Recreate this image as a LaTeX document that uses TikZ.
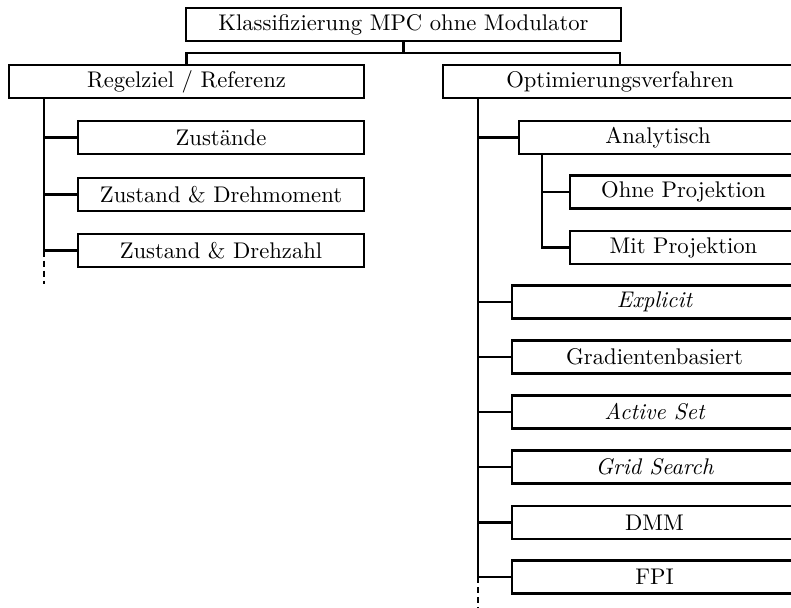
\documentclass[tikz,border=0pt]{standalone}
\usepackage{graphicx}
\newcommand\lbl[1]{\scalebox{2.265}{#1}}
\begin{document}
\begin{tikzpicture}[x=1pt,y=-1pt,
  box/.style={draw, line width=2.8pt, inner sep=0pt, minimum height=33pt, anchor=center,
    font=\fontsize{10}{12}\selectfont},
  conn/.style={line width=2.8pt},
  dconn/.style={line width=2.8pt, dash pattern=on 6pt off 4pt}]
\useasboundingbox (0,0) rectangle (791,607);
% nodes
\node[box, minimum width=435pt] (top) at (403.5,24.5) {\lbl{Klassifizierung MPC ohne Modulator}};
\node[box, minimum width=355pt] (reg) at (186.5,81.5) {\lbl{Regelziel / Referenz}};
\node[box, minimum width=354pt] (opt) at (620,81.5) {\lbl{Optimierungsverfahren}};
\node[box, minimum width=286pt] (z1) at (221,137.5) {\lbl{Zustände}};
\node[box, minimum width=286pt] (z2) at (221,194.5) {\lbl{Zustand \& Drehmoment}};
\node[box, minimum width=286pt] (z3) at (221,250.5) {\lbl{Zustand \& Drehzahl}};
\node[box, minimum width=278pt] (ana) at (658,137.5) {\lbl{Analytisch}};
\node[box, minimum width=227pt] (ohne) at (683.5,192) {\lbl{Ohne Projektion}};
\node[box, minimum width=227pt] (mit) at (683.5,247.5) {\lbl{Mit Projektion}};
\node[box, minimum width=285pt] (expl) at (654.5,302) {\lbl{\itshape Explicit}};
\node[box, minimum width=285pt] (grad) at (654.5,357) {\lbl{Gradientenbasiert}};
\node[box, minimum width=285pt] (act) at (654.5,412) {\lbl{\itshape Active Set}};
\node[box, minimum width=285pt] (grid) at (654.5,467) {\lbl{\itshape Grid Search}};
\node[box, minimum width=285pt] (dmm) at (654.5,522.5) {\lbl{DMM}};
\node[box, minimum width=285pt] (fpi) at (654.5,577) {\lbl{FPI}};
% coordinates
\coordinate (j) at (403.5,53);
\coordinate (lt) at (44,0);
\coordinate (rt) at (478,0);
\coordinate (at) at (542,0);
\coordinate (ltend) at (44,284);
\coordinate (rtend) at (478,608);
% top connectors
\draw[conn] (top.south) -- (j);
\draw[conn] (reg.north) |- (j) -| (opt.north);
% left tree
\draw[conn] (lt |- reg.south) -- (lt |- z3.west) -- (z3.west);
\draw[conn] (lt |- z1.west) -- (z1.west);
\draw[conn] (lt |- z2.west) -- (z2.west);
\draw[dconn] (lt |- z3.west) -- (ltend);
% right tree
\draw[conn] (rt |- opt.south) -- (rt |- fpi.west) -- (fpi.west);
\draw[conn] (rt |- ana.west) -- (ana.west);
\draw[conn] (rt |- expl.west) -- (expl.west);
\draw[conn] (rt |- grad.west) -- (grad.west);
\draw[conn] (rt |- act.west) -- (act.west);
\draw[conn] (rt |- grid.west) -- (grid.west);
\draw[conn] (rt |- dmm.west) -- (dmm.west);
\draw[dconn] (rt |- fpi.west) -- (rtend);
% analytisch subtree
\draw[conn] (at |- ana.south) -- (at |- mit.west) -- (mit.west);
\draw[conn] (at |- ohne.west) -- (ohne.west);
\end{tikzpicture}
\end{document}
